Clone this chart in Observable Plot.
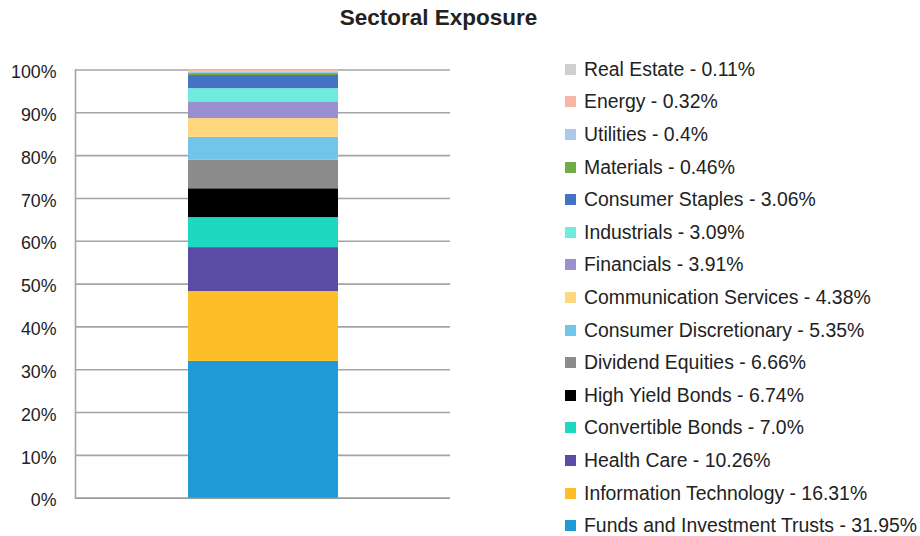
<!DOCTYPE html>
<html>
<head>
<meta charset="utf-8">
<script src="https://cdn.jsdelivr.net/npm/d3@7"></script>
<script src="https://cdn.jsdelivr.net/npm/@observablehq/plot@0.6"></script>
<style>
  html, body { margin: 0; padding: 0; background: #fff; }
  #wrap { position: relative; width: 920px; height: 536px; font-family: "Liberation Sans", Arial, sans-serif; }
  #title { position: absolute; left: 0; width: 877px; top: 5px; text-align: center; font-size: 22.5px; font-weight: bold; color: #222; }
  #chart { position: absolute; left: 0; top: 0; }
  #legend { position: absolute; left: 565px; top: 53px; }
  .row { display: flex; align-items: center; height: 32.6px; font-size: 19.4px; color: #222; white-space: nowrap; }
  .sw { width: 11px; height: 11px; margin-right: 8px; flex: none; }
</style>
</head>
<body>
<div id="wrap">
  <div id="title">Sectoral Exposure</div>
  <div id="chart"></div>
  <div id="legend"></div>
</div>
<script>
// Sectors from bottom of the stack to top
const sectors = [
  "Funds and Investment Trusts", "Information Technology", "Health Care",
  "Convertible Bonds", "High Yield Bonds", "Dividend Equities",
  "Consumer Discretionary", "Communication Services", "Financials",
  "Industrials", "Consumer Staples", "Materials", "Utilities", "Energy", "Real Estate"
];
const values = [31.95, 16.31, 10.26, 7.0, 6.74, 6.66, 5.35, 4.38, 3.91, 3.09, 3.06, 0.46, 0.4, 0.32, 0.11];
const valueLabels = ["31.95", "16.31", "10.26", "7.0", "6.74", "6.66", "5.35", "4.38", "3.91", "3.09", "3.06", "0.46", "0.4", "0.32", "0.11"];
const colors = [
  "#1f9ad6", "#febe28", "#5a4ba5", "#1ed8c1", "#000000", "#8c8c8c",
  "#71c4ea", "#fed77e", "#9a90cf", "#70ecdc", "#4472c4", "#70ad47", "#adc8e8", "#f4b8a4", "#cfcfcf"
];
const yTicks = [0, 10, 20, 30, 40, 50, 60, 70, 80, 90, 100];

const data = sectors.map((s, i) => ({ sector: s, value: values[i], group: "all" }));

const chart = Plot.plot({
  width: 450,
  height: 536,
  marginLeft: 75,
  marginRight: 0,
  marginTop: 69.5,
  marginBottom: 38.3,
  style: { fontFamily: "Liberation Sans, Arial, sans-serif", fontSize: "17.8px", color: "#222", background: "transparent" },
  x: { domain: ["all"], padding: 0.4286, axis: null },
  y: { domain: [0, 100], ticks: yTicks, tickFormat: d => d + "%", tickSize: 0, tickPadding: 19, label: null },
  color: { domain: sectors, range: colors },
  marks: [
    Plot.gridY(yTicks, { stroke: "#a4a4a4", strokeOpacity: 1, strokeWidth: 1.6 }),
    Plot.ruleY([0], { stroke: "#999", strokeWidth: 1.6 }),
    Plot.frame({ anchor: "left", stroke: "#a4a4a4", strokeWidth: 1.6 }),
    Plot.barY(data, { x: "group", y: "value", fill: "sector", order: null }),
    Plot.axisY({ ticks: yTicks, tickFormat: d => d + "%", tickSize: 0, tickPadding: 19, fill: "#222", dy: 2.5 })
  ]
});
document.getElementById("chart").appendChild(chart);

const legend = document.getElementById("legend");
for (let i = sectors.length - 1; i >= 0; i--) {
  const row = document.createElement("div");
  row.className = "row";
  const sw = document.createElement("div");
  sw.className = "sw";
  sw.style.background = colors[i];
  const t = document.createElement("span");
  t.textContent = sectors[i] + " - " + valueLabels[i] + "%";
  row.appendChild(sw);
  row.appendChild(t);
  legend.appendChild(row);
}
</script>
</body>
</html>
